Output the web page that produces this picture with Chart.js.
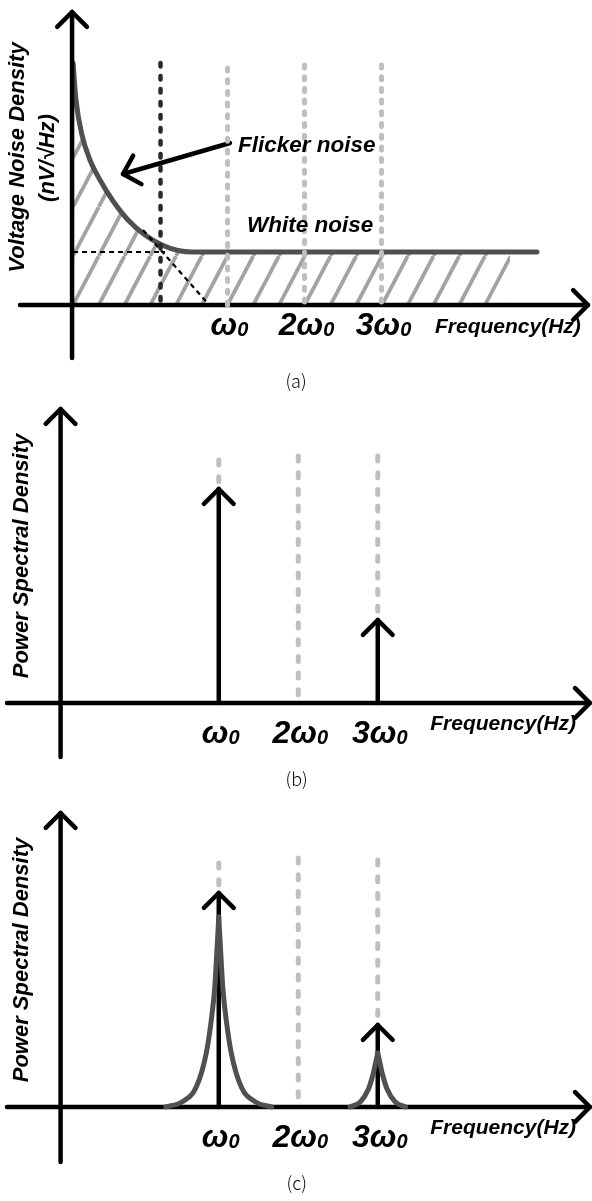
<!DOCTYPE html>
<html lang="en">
<head>
<meta charset="UTF-8" />
<title>Noise spectra</title>
<script src="https://cdn.jsdelivr.net/npm/chart.js"></script>
<style>
  body { margin: 0; background: #fff; }
  .panel { position: absolute; left: 0; width: 592px; }
  #pa { top: 0; height: 395px; }
  #pb { top: 395px; height: 405px; }
  #pc { top: 800px; height: 401px; }
</style>
</head>
<body>
<div class="panel" id="pa"><canvas id="chartA"></canvas></div>
<div class="panel" id="pb"><canvas id="chartB"></canvas></div>
<div class="panel" id="pc"><canvas id="chartC"></canvas></div>
<script>
// x in units of w0 (w0 = 1), y in arbitrary density units, x-axis at y = 0
const harmonics = [1, 2, 3];
const harmonicPrefix = ['', '2', '3'];
const freqLabel = 'Frequency(Hz)';

// (a) voltage noise density
const noiseX = [-1.006, -0.968, -0.890, -0.786, -0.656, -0.487, -0.292, -0.071, 0.149, 0.357, 0.539, 5.019];
const noiseY = [9.68, 8.2, 6.8, 5.8, 5.0, 4.16, 3.4, 2.8, 2.4, 2.18, 2.12, 2.12];
const hatchEndX = 4.669;
const cornerX = 0.13;
const cornerTop = 9.68;
const whiteLevel = 2.12;
const whiteGuideEndX = 0.19;
const flickerAsymX = [-0.097, 0.773];
const flickerAsymY = [3.0, -0.04];
const guideTopA = [9.48, 9.6, 9.6];
const guideEndA = [-0.32, -0.1, 0];
const flickerArrowX = [1.032, -0.357];
const flickerArrowY = [6.48, 5.24];

// (b) ideal tones
const toneAmpB = [8.56, 0, 3.32];
const guideTopB = [9.72, 9.88, 9.88];
const guideEndB = [8.56, 0.32, 3.32];

// (c) tones with phase noise skirts
const toneAmpC = [8.56, 0, 3.28];
const guideTopC = [9.76, 9.96, 9.88];
const guideEndC = [8.56, 0.4, 3.28];
const skirt1Offset = [0.667, 0.465, 0.283, 0.157, 0.094, 0.05, 0.025, 0];
const skirt1Level = [0, 0.2, 0.8, 2.16, 3.48, 4.8, 6.16, 7.6];
const skirt3Offset = [0.35, 0.22, 0.12, 0.06, 0.025, 0];
const skirt3Level = [0, 0.2, 0.7, 1.3, 1.8, 2.16];

const FONT = "'Liberation Sans', Arial, Helvetica, sans-serif";
const BLACK = '#000';
const GUIDE = '#bfbfbf';
const CURVE = '#505050';

function pts(xs, ys) {
  return xs.map((x, i) => ({ x: x, y: ys[i] }));
}

function seg(data, color, width, extra) {
  return Object.assign({
    data: data, showLine: true, borderColor: color, borderWidth: width,
    pointRadius: 0, fill: false, borderCapStyle: 'round', borderJoinStyle: 'round'
  }, extra || {});
}

function hatchPattern(ctx) {
  const c = document.createElement('canvas');
  c.width = 103; c.height = 49;
  const g = c.getContext('2d');
  g.strokeStyle = '#a3a3a3';
  g.lineWidth = 3.8;
  for (let i = -1; i <= 4; i++) {
    g.beginPath();
    g.moveTo(i * 25.75, 49);
    g.lineTo((i + 1) * 25.75, 0);
    g.stroke();
  }
  const p = ctx.createPattern(c, 'repeat');
  p.setTransform(new DOMMatrix().translate(73, 256));
  return p;
}

function drawHarmonic(ctx, x, y, prefix, size) {
  const big = 'italic bold ' + size + 'px ' + FONT;
  const small = 'italic bold ' + Math.round(size * 0.64) + 'px ' + FONT;
  ctx.font = big;
  const w1 = ctx.measureText(prefix + 'ω').width;
  ctx.font = small;
  const w2 = ctx.measureText('0').width;
  const left = x - (w1 + w2) / 2 + 2;
  ctx.textAlign = 'left';
  ctx.textBaseline = 'alphabetic';
  ctx.font = big;
  ctx.fillText(prefix + 'ω', left, y);
  ctx.font = small;
  ctx.fillText('0', left + w1, y + size * 0.04);
}

function marks(cfg) {
  return {
    id: 'marks',
    afterDatasetsDraw(chart) {
      const ctx = chart.ctx;
      const xs = chart.scales.x, ys = chart.scales.y;
      ctx.save();
      // open arrow heads on flagged segments
      chart.data.datasets.forEach((ds, i) => {
        if (!ds.arrowHead) return;
        const el = chart.getDatasetMeta(i).data;
        const p = el[el.length - 1], q = el[el.length - 2];
        const a = Math.atan2(p.y - q.y, p.x - q.x);
        const L = 21;
        ctx.strokeStyle = BLACK;
        ctx.lineWidth = 4.5;
        ctx.lineCap = 'round';
        ctx.lineJoin = 'round';
        ctx.beginPath();
        ctx.moveTo(p.x + L * Math.cos(a + Math.PI * 0.75), p.y + L * Math.sin(a + Math.PI * 0.75));
        ctx.lineTo(p.x, p.y);
        ctx.lineTo(p.x + L * Math.cos(a - Math.PI * 0.75), p.y + L * Math.sin(a - Math.PI * 0.75));
        ctx.stroke();
      });
      ctx.fillStyle = BLACK;
      // harmonic tick labels
      harmonics.forEach((h, i) => {
        drawHarmonic(ctx, xs.getPixelForValue(h), ys.getPixelForValue(cfg.tickY), harmonicPrefix[i], 32);
      });
      ctx.font = 'italic bold 21px ' + FONT;
      ctx.textAlign = 'left';
      ctx.textBaseline = 'alphabetic';
      ctx.fillText(freqLabel, xs.getPixelForValue(cfg.freqX), ys.getPixelForValue(cfg.freqY));
      // free texts
      cfg.texts.forEach(t => {
        ctx.save();
        ctx.translate(xs.getPixelForValue(t.x), ys.getPixelForValue(t.y));
        if (t.rot) ctx.rotate(-Math.PI / 2);
        ctx.font = t.font;
        ctx.textAlign = t.align;
        ctx.textBaseline = t.base;
        ctx.fillText(t.text, 0, 0);
        ctx.restore();
      });
      ctx.restore();
    }
  };
}

function makeChart(id, xr, yr, datasets, cfg) {
  return new Chart(document.getElementById(id), {
    type: 'scatter',
    data: { datasets: datasets },
    options: {
      responsive: true,
      maintainAspectRatio: false,
      animation: false,
      events: [],
      layout: { padding: 0 },
      plugins: { legend: { display: false }, tooltip: { enabled: false } },
      scales: {
        x: { type: 'linear', min: xr[0], max: xr[1], display: false },
        y: { type: 'linear', min: yr[0], max: yr[1], display: false }
      }
    },
    plugins: [marks(cfg)]
  });
}

const labelFont = 'italic bold 22.5px ' + FONT;
const sideFont = 'italic bold 22px ' + FONT;
const capFont = '300 18px "Noto Sans CJK KR", "Noto Sans", sans-serif';

// ---------- (a) ----------
const ctxA = document.getElementById('chartA').getContext('2d');
const dsA = [];
dsA.push(seg(pts(noiseX.slice(0, -1).concat([hatchEndX]), noiseY), 'rgba(0,0,0,0)', 0,
  { fill: 'origin', backgroundColor: hatchPattern(ctxA), cubicInterpolationMode: 'monotone', order: 6 }));
dsA.push(seg(pts(noiseX, noiseY), CURVE, 5, { cubicInterpolationMode: 'monotone', order: 4 }));
dsA.push(seg(pts([noiseX[0], whiteGuideEndX], [whiteLevel, whiteLevel]), BLACK, 2.2,
  { borderDash: [5, 4], borderCapStyle: 'butt', order: 3 }));
dsA.push(seg(pts(flickerAsymX, flickerAsymY), BLACK, 2.2,
  { borderDash: [5, 4], borderCapStyle: 'butt', order: 3 }));
dsA.push(seg(pts([cornerX, cornerX], [cornerTop, 0]), '#2a2a2a', 4.5,
  { borderDash: [3.5, 9.5], order: 1 }));
harmonics.forEach((h, i) => {
  dsA.push(seg(pts([h, h], [guideTopA[i], guideEndA[i]]), GUIDE, 5,
    { borderDash: [3, 8.7], order: 0 }));
});
dsA.push(seg(pts([-1.695, 5.682], [0, 0]), BLACK, 4.5, { arrowHead: true, order: 2 }));
dsA.push(seg(pts([-1.019, -1.019], [-2.12, 11.72]), BLACK, 4.5, { arrowHead: true, order: 2 }));
dsA.push(seg(pts(flickerArrowX, flickerArrowY), BLACK, 4.5, { arrowHead: true, order: 2 }));

makeChart('chartA', [-1.955, 5.734], [-3.6, 12.2], dsA, {
  tickY: -1.2, freqX: 3.695, freqY: -1.12,
  texts: [
    { text: 'Voltage Noise Density', x: -1.72, y: 5.9, rot: true, font: sideFont, align: 'center', base: 'middle' },
    { text: '(nV/√Hz)', x: -1.33, y: 5.88, rot: true, font: sideFont, align: 'center', base: 'middle' },
    { text: 'Flicker noise', x: 1.136, y: 6.12, font: labelFont, align: 'left', base: 'alphabetic' },
    { text: 'White noise', x: 1.253, y: 2.92, font: labelFont, align: 'left', base: 'alphabetic' },
    { text: '(a)', x: 1.89, y: -3.04, font: capFont, align: 'center', base: 'middle' }
  ]
});

// ---------- (b) and (c) ----------
function tonePanel(id, yr, toneAmp, guideTop, guideEnd, skirts, yTop, yBottom, capText) {
  const ds = [];
  harmonics.forEach((h, i) => {
    ds.push(seg(pts([h, h], [guideTop[i], guideEnd[i]]), GUIDE, 5,
      { borderDash: [5, 11.7], order: 0 }));
    if (toneAmp[i] > 0) {
      ds.push(seg(pts([h, h], [0, toneAmp[i]]), BLACK, 4.5, { arrowHead: true, order: 3 }));
    }
  });
  skirts.forEach(s => {
    ds.push(seg(pts(s.off.map(o => s.x - o), s.lev), CURVE, 5, { cubicInterpolationMode: 'monotone', order: 1 }));
    ds.push(seg(pts(s.off.map(o => s.x + o), s.lev), CURVE, 5, { cubicInterpolationMode: 'monotone', order: 1 }));
  });
  ds.push(seg(pts([-1.664, 5.669], [0, 0]), BLACK, 4.5, { arrowHead: true, order: 2 }));
  ds.push(seg(pts([-0.99, -0.99], [yBottom, yTop]), BLACK, 4.5, { arrowHead: true, order: 2 }));
  makeChart(id, [-1.752, 5.695], yr, ds, {
    tickY: -1.58, freqX: 3.66, freqY: -1.08,
    texts: [
      { text: 'Power Spectral Density', x: -1.475, y: 5.88, rot: true, font: sideFont, align: 'center', base: 'middle' },
      { text: capText, x: 1.98, y: -3.06, font: capFont, align: 'center', base: 'middle' }
    ]
  });
}

tonePanel('chartB', [-3.88, 12.32], toneAmpB, guideTopB, guideEndB, [], 11.76, -2.16, '(b)');
tonePanel('chartC', [-3.76, 12.28], toneAmpC, guideTopC, guideEndC, [
  { x: 1, off: skirt1Offset, lev: skirt1Level },
  { x: 3, off: skirt3Offset, lev: skirt3Level }
], 11.76, -2.2, '(c)');
</script>
</body>
</html>
